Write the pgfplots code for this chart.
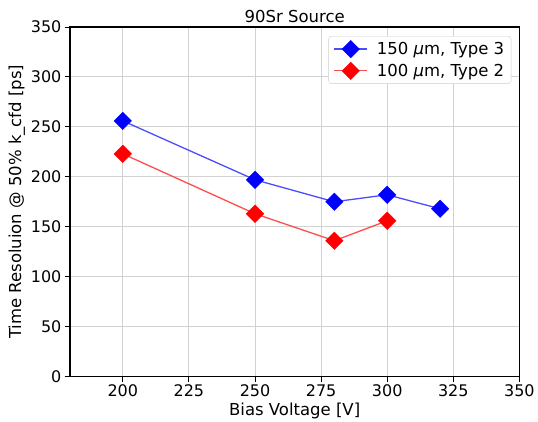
\documentclass[border=0pt]{standalone}
\usepackage{pgfplots}
\pgfplotsset{compat=1.18}
\usepackage{fontspec}
\setmainfont{DejaVu Sans}
\begin{document}
\begin{tikzpicture}
\begin{axis}[
  name=ax,
  scale only axis, width=450pt, height=350pt,
  xmin=180, xmax=350, ymin=0, ymax=350,
  xtick={200,225,...,350}, ytick={0,50,...,350},
  grid=major, grid style={gray!35, line width=0.9pt},
  axis line style={line width=1.5pt},
  tick style={black, line width=0.9pt}, tick align=outside, major tick length=5pt,
  xtick pos=bottom, ytick pos=left,
  /pgf/number format/assume math mode=true,
  tick label style={font=\fontsize{16}{17}\selectfont},
  label style={font=\fontsize{16.5}{17}\selectfont},
  title style={font=\fontsize{16.5}{17}\selectfont, yshift=-5pt},
  title={90Sr Source},
  xlabel={Bias Voltage [V]}, ylabel={Time Resoluion @ 50\% k\_cfd [ps]},
  xlabel style={yshift=1.5pt}, ylabel style={yshift=-1pt},
  legend style={at={(0.982,0.974)}, anchor=north east, draw=gray!40, rounded corners=3pt,
    font=\fontsize{16.5}{17}\selectfont, row sep=4pt, inner xsep=5pt, inner ysep=4pt,
    /tikz/every odd column/.append style={column sep=7pt}},
  legend cell align=left,
  legend image code/.code={\draw[mark repeat=2, mark phase=2, #1] plot coordinates {(0pt,0pt) (16.5pt,0pt) (33pt,0pt)};},
]
\addplot[color=blue!70, line width=1.3pt, mark=square*, mark size=6.2pt,
  mark options={rotate=45, fill=blue, draw=blue, line width=0.4pt, solid}] coordinates {
  (200,256) (250,197) (280,175) (300,182) (320,168)};
\addlegendentry{150 {\itshape μ}m, Type 3}
\addplot[color=red!70, line width=1.3pt, mark=square*, mark size=6.2pt,
  mark options={rotate=45, fill=red, draw=red, line width=0.4pt, solid}] coordinates {
  (200,223) (250,163) (280,136) (300,156)};
\addlegendentry{100 {\itshape μ}m, Type 2}
\end{axis}
\path[use as bounding box] ([xshift=-70pt,yshift=-42pt]ax.south west) rectangle ([xshift=18pt,yshift=27pt]ax.north east);
\end{tikzpicture}
\end{document}
